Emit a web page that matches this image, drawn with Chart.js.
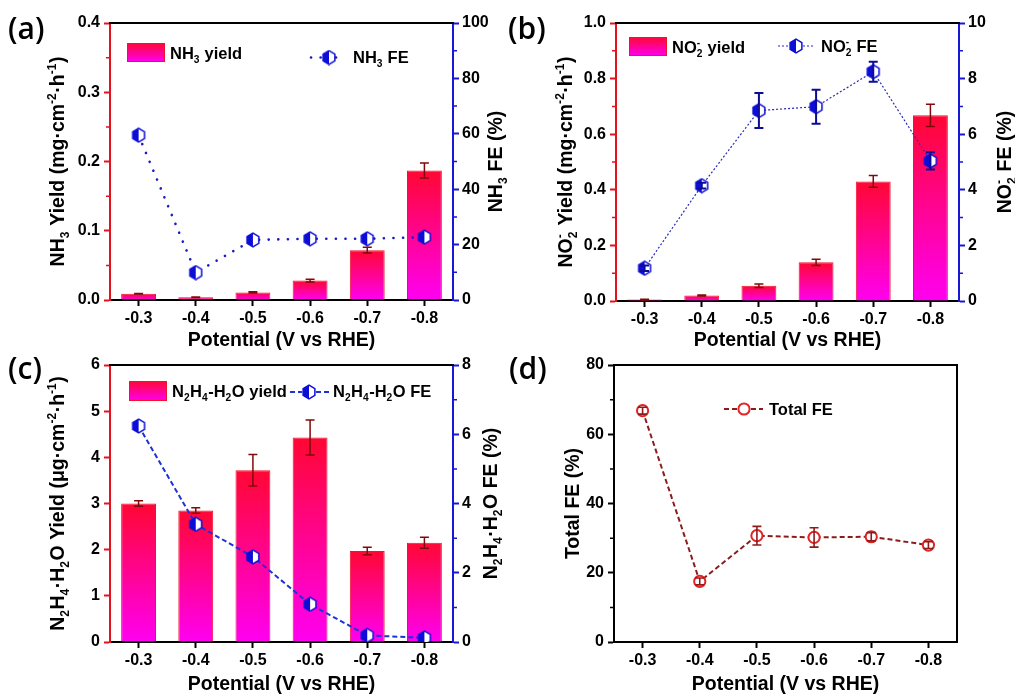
<!DOCTYPE html>
<html>
<head>
<meta charset="utf-8">
<script src="https://cdn.jsdelivr.net/npm/chart.js@4/dist/chart.umd.min.js"></script>
<style>
  html, body { margin: 0; padding: 0; background: #fff; }
  #wrap { position: relative; width: 1015px; height: 695px; overflow: hidden; background: #fff; }
  #wrap canvas { position: absolute; left: 0; top: 0; }
</style>
</head>
<body>
<div id="wrap">
  <canvas id="pa" width="1015" height="695"></canvas>
  <canvas id="pb" width="1015" height="695"></canvas>
  <canvas id="pc" width="1015" height="695"></canvas>
  <canvas id="pd" width="1015" height="695"></canvas>
</div>
<script>
// ---- data -------------------------------------------------------------
const potentials = ['-0.3', '-0.4', '-0.5', '-0.6', '-0.7', '-0.8'];

const nh3Yield    = [0.009, 0.004, 0.011, 0.028, 0.072, 0.187];   // mg cm-2 h-1
const nh3YieldErr = [0.0005, 0.0005, 0.001, 0.002, 0.004, 0.011];
const nh3FE       = [59.5, 9.9, 21.7, 22.1, 22.1, 22.7];          // %

const no2Yield    = [0.005, 0.02, 0.055, 0.139, 0.43, 0.668];     // mg cm-2 h-1
const no2YieldErr = [0.001, 0.002, 0.006, 0.011, 0.021, 0.04];
const no2FE       = [1.18, 4.15, 6.85, 6.99, 8.25, 5.04];         // %
const no2FEErr    = [0.1, 0.1, 0.63, 0.61, 0.36, 0.31];

const n2h4Yield    = [3.0, 2.85, 3.72, 4.43, 1.97, 2.15];         // ug cm-2 h-1
const n2h4YieldErr = [0.06, 0.06, 0.34, 0.38, 0.08, 0.12];
const n2h4FE       = [6.24, 3.40, 2.46, 1.09, 0.19, 0.12];        // %

const totalFE    = [66.8, 17.5, 30.7, 30.2, 30.4, 28.0];          // %
const totalFEErr = [1.0, 1.0, 2.7, 2.8, 1.2, 1.0];

// axis tick values
const nh3YieldTicks  = [0, 0.1, 0.2, 0.3, 0.4];
const nh3FETicks     = [0, 20, 40, 60, 80, 100];
const no2YieldTicks  = [0, 0.2, 0.4, 0.6, 0.8, 1.0];
const no2FETicks     = [0, 2, 4, 6, 8, 10];
const n2h4YieldTicks = [0, 1, 2, 3, 4, 5, 6];
const n2h4FETicks    = [0, 2, 4, 6, 8];
const totalFETicks   = [0, 20, 40, 60, 80];

// ---- styling ----------------------------------------------------------
const FONT = '"Liberation Sans", Arial, Helvetica, sans-serif';
const LABEL_FONT = '"Open Sans", "Noto Sans", sans-serif';
const AXIS_RED = '#e3121c';
const AXIS_BLUE = '#1717d6';
const BAR_TOP = '#ff0733';
const BAR_BOTTOM = '#ff00f2';
const BAR_EDGE = '#f0122e';
const ERR_RED = '#800a0a';
const TICK_SIZE = 16;
const TITLE_SIZE = 19.5;
const LEGEND_SIZE = 16.5;

Chart.defaults.font.family = FONT;
Chart.defaults.font.weight = 'bold';
Chart.defaults.font.size = TICK_SIZE;
Chart.defaults.color = '#000';

// half-filled hexagon symbol
function hexMarker(fill, stroke) {
  const c = document.createElement('canvas');
  c.width = 16; c.height = 16;
  const g = c.getContext('2d');
  const cx = 8, cy = 8, r = 6.8;
  g.beginPath();
  for (let k = 0; k < 6; k++) {
    const a = Math.PI / 2 + k * Math.PI / 3;
    const px = cx + r * Math.cos(a), py = cy - r * Math.sin(a);
    if (k === 0) g.moveTo(px, py); else g.lineTo(px, py);
  }
  g.closePath();
  g.fillStyle = '#fff';
  g.fill();
  g.save();
  g.clip();
  g.fillStyle = fill;
  g.fillRect(0, 0, cx, 16);
  g.restore();
  g.lineWidth = 1.5;
  g.strokeStyle = stroke;
  g.stroke();
  return c;
}
const hexBlue = hexMarker('#0d0dd8', '#0d0dd8');

// vertical red-to-magenta fill for each bar
function barFill(c) {
  const chart = c.chart;
  if (!chart.chartArea || c.type !== 'data') return BAR_TOP;
  const ys = chart.scales[c.dataset.yAxisID || 'y'];
  const top = ys.getPixelForValue(c.raw);
  const base = ys.getPixelForValue(0);
  if (!(base - top > 0.5)) return BAR_BOTTOM;
  const g = chart.ctx.createLinearGradient(0, top, 0, base);
  g.addColorStop(0, BAR_TOP);
  g.addColorStop(1, BAR_BOTTOM);
  return g;
}

// ---- rich text (sub/superscripts) ------------------------------------
function segWidth(ctx, seg, size) {
  if (typeof seg === 'string') {
    ctx.font = `bold ${size}px ${FONT}`;
    return ctx.measureText(seg).width;
  }
  ctx.font = `bold ${size * 0.62}px ${FONT}`;
  const a = seg.sub ? ctx.measureText(seg.sub).width : 0;
  const b = seg.sup ? ctx.measureText(seg.sup).width : 0;
  return Math.max(a, b) + 0.5;
}
function drawRich(ctx, segs, x, y, size, align) {
  const total = segs.reduce((acc, s) => acc + segWidth(ctx, s, size), 0);
  let cx = align === 'center' ? x - total / 2 : x;
  ctx.textAlign = 'left';
  ctx.textBaseline = 'alphabetic';
  ctx.fillStyle = '#000';
  for (const s of segs) {
    const w = segWidth(ctx, s, size);
    if (typeof s === 'string') {
      ctx.font = `bold ${size}px ${FONT}`;
      ctx.fillText(s, cx, y);
    } else {
      ctx.font = `bold ${size * 0.62}px ${FONT}`;
      if (s.sub) ctx.fillText(s.sub, cx, y + size * 0.24);
      if (s.sup) ctx.fillText(s.sup, cx, y - size * 0.42);
    }
    cx += w;
  }
}
function drawVertical(ctx, segs, cx, cy, size) {
  ctx.save();
  ctx.translate(cx, cy);
  ctx.rotate(-Math.PI / 2);
  drawRich(ctx, segs, 0, size * 0.36, size, 'center');
  ctx.restore();
}

// ---- per-panel decorations: frame, minor ticks, titles, legend, error bars
function panelDecor(cfg) {
  return {
    id: 'panelDecor',
    afterDatasetDraw(chart, args) {
      const ds = chart.data.datasets[args.index];
      if (!ds.errors) return;
      const meta = args.meta;
      const ys = chart.scales[meta.yAxisID];
      const ctx = chart.ctx;
      ctx.save();
      ctx.strokeStyle = ds.errorColor;
      ctx.lineWidth = ds.errorWidth || 1.5;
      meta.data.forEach((el, i) => {
        const e = ds.errors[i];
        if (!e) return;
        const v = ds.data[i];
        const x = el.x;
        const yHi = ys.getPixelForValue(v + e);
        const yLo = ys.getPixelForValue(Math.max(0, v - e));
        const hw = ds.errorCap || 4.5;
        ctx.beginPath();
        ctx.moveTo(x, yHi); ctx.lineTo(x, yLo);
        ctx.moveTo(x - hw, yHi); ctx.lineTo(x + hw, yHi);
        ctx.moveTo(x - hw, yLo); ctx.lineTo(x + hw, yLo);
        ctx.stroke();
      });
      ctx.restore();
    },
    afterDraw(chart) {
      const ctx = chart.ctx;
      const a = chart.chartArea;
      ctx.save();
      // frame
      ctx.strokeStyle = '#000';
      ctx.lineWidth = 2;
      ctx.beginPath();
      ctx.moveTo(a.left - 1, a.top); ctx.lineTo(a.right + 1, a.top);
      if (cfg.frameRight) { ctx.moveTo(a.right, a.top); ctx.lineTo(a.right, a.bottom + 1); }
      ctx.stroke();

      // minor ticks
      (cfg.minor || []).forEach(m => {
        const s = chart.scales[m.id];
        ctx.strokeStyle = m.color;
        ctx.lineWidth = 1.5;
        ctx.beginPath();
        for (let v = s.min + m.step; v < s.max; v += 2 * m.step) {
          const y = s.getPixelForValue(v);
          if (s.position === 'left') { ctx.moveTo(s.right, y); ctx.lineTo(s.right - 4, y); }
          else { ctx.moveTo(s.left, y); ctx.lineTo(s.left + 4, y); }
        }
        ctx.stroke();
      });

      // axis titles
      const midY = (a.top + a.bottom) / 2;
      drawRich(ctx, cfg.xTitle, (a.left + a.right) / 2, cfg.xTitleY, TITLE_SIZE, 'center');
      drawVertical(ctx, cfg.yTitle, cfg.yTitleX, midY, TITLE_SIZE);
      if (cfg.y1Title) drawVertical(ctx, cfg.y1Title, cfg.y1TitleX, midY, TITLE_SIZE);

      // legend
      cfg.legend.forEach(item => {
        const ds = chart.data.datasets[item.ds];
        if (item.kind === 'bar') {
          const g = ctx.createLinearGradient(0, item.y, 0, item.y + item.h);
          g.addColorStop(0, BAR_TOP);
          g.addColorStop(1, BAR_BOTTOM);
          ctx.fillStyle = g;
          ctx.fillRect(item.x, item.y, item.w, item.h);
          ctx.strokeStyle = BAR_EDGE;
          ctx.lineWidth = 1;
          ctx.strokeRect(item.x + 0.5, item.y + 0.5, item.w - 1, item.h - 1);
        } else {
          ctx.save();
          ctx.strokeStyle = ds.borderColor;
          ctx.lineWidth = ds.borderWidth;
          ctx.lineCap = ds.borderCapStyle || 'butt';
          ctx.setLineDash(ds.borderDash || []);
          ctx.beginPath();
          ctx.moveTo(item.x1, item.my); ctx.lineTo(item.mx - 7, item.my);
          ctx.moveTo(item.mx + 7, item.my); ctx.lineTo(item.x2, item.my);
          ctx.stroke();
          ctx.restore();
          if (ds.pointStyle instanceof HTMLCanvasElement) {
            const img = ds.pointStyle;
            ctx.drawImage(img, item.mx - img.width / 2, item.my - img.height / 2);
          } else {
            ctx.beginPath();
            ctx.arc(item.mx, item.my, ds.pointRadius, 0, Math.PI * 2);
            ctx.fillStyle = ds.pointBackgroundColor;
            ctx.fill();
            ctx.lineWidth = ds.pointBorderWidth;
            ctx.strokeStyle = ds.pointBorderColor;
            ctx.stroke();
          }
        }
        drawRich(ctx, item.text, item.tx, item.ty, LEGEND_SIZE, 'left');
      });

      // panel letter
      ctx.font = `600 30px ${LABEL_FONT}`;
      ctx.fillStyle = '#000';
      ctx.textAlign = 'left';
      ctx.textBaseline = 'alphabetic';
      ctx.fillText(cfg.label, cfg.labelX, cfg.labelY);
      ctx.restore();
    }
  };
}

// ---- scale builders ---------------------------------------------------
function valueAxis(position, ticksArr, color, width, digits, pad) {
  return {
    type: 'linear',
    position,
    min: ticksArr[0],
    max: ticksArr[ticksArr.length - 1],
    afterBuildTicks: s => { s.ticks = ticksArr.map(v => ({ value: v })); },
    afterFit: s => { s.width = width; },
    ticks: {
      autoSkip: false,
      padding: pad,
      color: '#000',
      font: { size: TICK_SIZE, weight: 'bold' },
      callback: v => Number(v).toFixed(digits)
    },
    grid: { drawOnChartArea: false, drawTicks: true, tickLength: 6, tickColor: color, tickWidth: 2 },
    border: { display: true, color, width: 2 }
  };
}
function categoryAxis(height) {
  return {
    type: 'category',
    offset: true,
    afterFit: s => { s.height = height; },
    ticks: { padding: 3, color: '#000', font: { size: TICK_SIZE, weight: 'bold' }, autoSkip: false, maxRotation: 0 },
    grid: { offset: false, drawOnChartArea: false, drawTicks: true, tickLength: 6, tickColor: '#000', tickWidth: 2 },
    border: { display: true, color: '#000', width: 2 }
  };
}
function baseOptions(padding, scales) {
  return {
    responsive: false,
    animation: false,
    events: [],
    devicePixelRatio: 1,
    layout: { padding },
    plugins: { legend: { display: false }, tooltip: { enabled: false } },
    scales
  };
}

const potentialTitle = ['Potential (V vs RHE)'];

// ---- (a) NH3 ---------------------------------------------------------
new Chart(document.getElementById('pa'), {
  type: 'bar',
  data: {
    labels: potentials,
    datasets: [
      { type: 'bar', label: 'NH3 yield', data: nh3Yield, yAxisID: 'y', order: 1,
        backgroundColor: barFill, borderColor: BAR_EDGE, borderWidth: 1,
        barPercentage: 0.61, categoryPercentage: 1,
        errors: nh3YieldErr, errorColor: ERR_RED, errorWidth: 1.5 },
      { type: 'line', label: 'NH3 FE', data: nh3FE, yAxisID: 'y1', order: 0,
        borderColor: '#1a1ac8', borderWidth: 2.6, borderDash: [0.1, 9.5], borderCapStyle: 'round',
        pointStyle: hexBlue, tension: 0, fill: false }
    ]
  },
  options: baseOptions({ top: 23, left: 0, right: 0, bottom: 0 }, {
    x: categoryAxis(395),
    y: valueAxis('left', nh3YieldTicks, AXIS_RED, 110, 1, 4),
    y1: valueAxis('right', nh3FETicks, AXIS_BLUE, 562, 0, 3)
  }),
  plugins: [panelDecor({
    label: '(a)', labelX: 8, labelY: 39,
    xTitle: potentialTitle, xTitleY: 346,
    yTitle: ['NH', { sub: '3' }, ' Yield (mg·cm', { sup: '-2' }, '·h', { sup: '-1' }, ')'], yTitleX: 57,
    y1Title: ['NH', { sub: '3' }, ' FE (%)'], y1TitleX: 495,
    minor: [{ id: 'y', step: 0.05, color: AXIS_RED }, { id: 'y1', step: 10, color: AXIS_BLUE }],
    legend: [
      { kind: 'bar', ds: 0, x: 127, y: 43, w: 38, h: 19, text: ['NH', { sub: '3' }, ' yield'], tx: 170, ty: 59 },
      { kind: 'line', ds: 1, x1: 311, x2: 341, mx: 329, my: 57.5, text: ['NH', { sub: '3' }, ' FE'], tx: 353, ty: 63 }
    ]
  })]
});

// ---- (b) NO2- --------------------------------------------------------
new Chart(document.getElementById('pb'), {
  type: 'bar',
  data: {
    labels: potentials,
    datasets: [
      { type: 'bar', label: 'NO2- yield', data: no2Yield, yAxisID: 'y', order: 1,
        backgroundColor: barFill, borderColor: BAR_EDGE, borderWidth: 1,
        barPercentage: 0.61, categoryPercentage: 1,
        errors: no2YieldErr, errorColor: ERR_RED, errorWidth: 1.5 },
      { type: 'line', label: 'NO2- FE', data: no2FE, yAxisID: 'y1', order: 0,
        borderColor: '#2a2ab8', borderWidth: 1.2, borderDash: [2, 2],
        pointStyle: hexBlue, tension: 0, fill: false,
        errors: no2FEErr, errorColor: '#0c0c95', errorWidth: 2, errorCap: 4.5 }
    ]
  },
  options: baseOptions({ top: 23, left: 0, right: 0, bottom: 0 }, {
    x: categoryAxis(394),
    y: valueAxis('left', no2YieldTicks, AXIS_RED, 616, 1, 4),
    y1: valueAxis('right', no2FETicks, AXIS_BLUE, 56, 0, 3)
  }),
  plugins: [panelDecor({
    label: '(b)', labelX: 508, labelY: 39,
    xTitle: potentialTitle, xTitleY: 346,
    yTitle: ['NO', { sub: '2', sup: '-' }, ' Yield (mg·cm', { sup: '-2' }, '·h', { sup: '-1' }, ')'], yTitleX: 565,
    y1Title: ['NO', { sub: '2', sup: '-' }, ' FE (%)'], y1TitleX: 1004,
    minor: [{ id: 'y', step: 0.1, color: AXIS_RED }, { id: 'y1', step: 1, color: AXIS_BLUE }],
    legend: [
      { kind: 'bar', ds: 0, x: 629, y: 37, w: 38, h: 19, text: ['NO', { sub: '2', sup: '-' }, ' yield'], tx: 672, ty: 53 },
      { kind: 'line', ds: 1, x1: 778, x2: 814, mx: 796, my: 46, text: ['NO', { sub: '2', sup: '-' }, ' FE'], tx: 821, ty: 52 }
    ]
  })]
});

// ---- (c) N2H4·H2O ----------------------------------------------------
new Chart(document.getElementById('pc'), {
  type: 'bar',
  data: {
    labels: potentials,
    datasets: [
      { type: 'bar', label: 'N2H4-H2O yield', data: n2h4Yield, yAxisID: 'y', order: 1,
        backgroundColor: barFill, borderColor: BAR_EDGE, borderWidth: 1,
        barPercentage: 0.61, categoryPercentage: 1,
        errors: n2h4YieldErr, errorColor: ERR_RED, errorWidth: 1.5 },
      { type: 'line', label: 'N2H4-H2O FE', data: n2h4FE, yAxisID: 'y1', order: 0,
        borderColor: '#1c32d8', borderWidth: 2, borderDash: [5, 3],
        pointStyle: hexBlue, tension: 0, fill: false }
    ]
  },
  options: baseOptions({ top: 365, left: 0, right: 0, bottom: 0 }, {
    x: categoryAxis(53),
    y: valueAxis('left', n2h4YieldTicks, AXIS_RED, 110, 0, 4),
    y1: valueAxis('right', n2h4FETicks, AXIS_BLUE, 562, 0, 3)
  }),
  plugins: [panelDecor({
    label: '(c)', labelX: 8, labelY: 379,
    xTitle: potentialTitle, xTitleY: 690,
    yTitle: ['N', { sub: '2' }, 'H', { sub: '4' }, '·H', { sub: '2' }, 'O Yield (μg·cm', { sup: '-2' }, '·h', { sup: '-1' }, ')'], yTitleX: 57,
    y1Title: ['N', { sub: '2' }, 'H', { sub: '4' }, '·H', { sub: '2' }, 'O FE (%)'], y1TitleX: 490,
    minor: [{ id: 'y1', step: 1, color: AXIS_BLUE }],
    legend: [
      { kind: 'bar', ds: 0, x: 129, y: 381, w: 38, h: 20, text: ['N', { sub: '2' }, 'H', { sub: '4' }, '-H', { sub: '2' }, 'O yield'], tx: 172, ty: 397 },
      { kind: 'line', ds: 1, x1: 290, x2: 329, mx: 309, my: 392, text: ['N', { sub: '2' }, 'H', { sub: '4' }, '-H', { sub: '2' }, 'O FE'], tx: 333, ty: 397 }
    ]
  })]
});

// ---- (d) total FE ----------------------------------------------------
new Chart(document.getElementById('pd'), {
  type: 'line',
  data: {
    labels: potentials,
    datasets: [
      { label: 'Total FE', data: totalFE, yAxisID: 'y',
        borderColor: '#8c1c1c', borderWidth: 2, borderDash: [5, 3],
        pointStyle: 'circle', pointRadius: 5.6, pointBorderWidth: 2,
        pointBorderColor: '#e32424', pointBackgroundColor: '#fff',
        tension: 0, fill: false,
        errors: totalFEErr, errorColor: '#8c1c1c', errorWidth: 1.6, errorCap: 4.5 }
    ]
  },
  options: baseOptions({ top: 365, left: 0, right: 58, bottom: 0 }, {
    x: categoryAxis(53),
    y: valueAxis('left', totalFETicks, '#000', 614, 0, 4)
  }),
  plugins: [panelDecor({
    label: '(d)', labelX: 509, labelY: 379, frameRight: true,
    xTitle: potentialTitle, xTitleY: 690,
    yTitle: ['Total FE (%)'], yTitleX: 572,
    minor: [{ id: 'y', step: 10, color: '#000' }],
    legend: [
      { kind: 'line', ds: 0, x1: 724, x2: 763, mx: 744, my: 409, text: ['Total FE'], tx: 769, ty: 415 }
    ]
  })]
});
</script>
</body>
</html>
